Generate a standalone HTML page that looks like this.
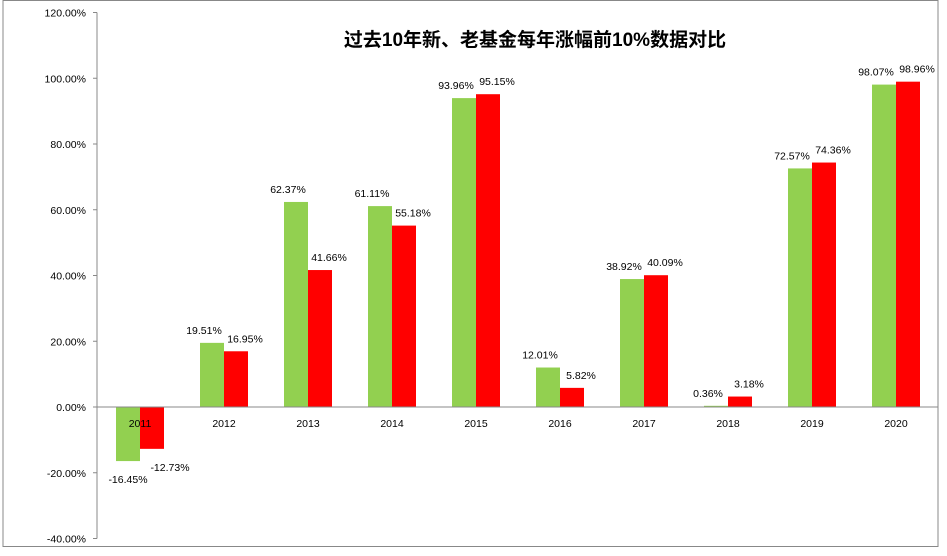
<!DOCTYPE html>
<html><head><meta charset="utf-8"><style>
body{margin:0;background:#fff}
svg{display:block;font-family:"Liberation Sans","Noto Sans CJK SC",sans-serif}
</style></head><body>
<svg id="c" width="947" height="556">
<rect x="3" y="0.5" width="935" height="546" fill="#fff" stroke="#888"/>
<text x="535" y="46" text-anchor="middle" font-size="19" font-weight="bold" fill="#000">过去10年新、老基金每年涨幅前10%数据对比</text>
<g id="grid"></g><g id="bars"></g>
</svg>
<script>
const categories=["2011","2012","2013","2014","2015","2016","2017","2018","2019","2020"];
const newFund=[-16.45,19.51,62.37,61.11,93.96,12.01,38.92,0.36,72.57,98.07];
const oldFund=[-12.73,16.95,41.66,55.18,95.15,5.82,40.09,3.18,74.36,98.96];
const yTicks=[-40,-20,0,20,40,60,80,100,120];
const NS="http://www.w3.org/2000/svg";
const y0=407,pxPer=65.75/20;
const y=v=>y0-v*pxPer;
const xc=i=>140+i*84;
const bw=24;
function mk(tag,attrs,parent,text){const e=document.createElementNS(NS,tag);for(const k in attrs)e.setAttribute(k,attrs[k]);if(text!==undefined)e.textContent=text;parent.appendChild(e);return e;}
const g=document.getElementById('grid'),b=document.getElementById('bars');
const ax=mk('line',{x1:97,x2:97,y1:y(120),y2:y(-40),stroke:'#888'},g);


yTicks.forEach(t=>{
 const l=mk('line',{x1:93,x2:97,y1:y(t),y2:y(t),stroke:'#888'},g);
 
 
 const tx=mk('text',{x:86,y:y(t)+4,'text-anchor':'end','font-size':10.5},g,t.toFixed(2)+'%');
 
 
});
categories.forEach((c,i)=>{
 const cx=xc(i);
 [[newFund[i],cx-bw,'#92D050','new-fund'],[oldFund[i],cx,'#FF0000','old-fund']].forEach(([v,x,col,nm])=>{
  const top=Math.min(y(v),y0),h=Math.abs(y(v)-y0);
  const r=mk('rect',{x:x,y:top,width:bw,height:h,fill:col},b);
  
  
  const ly=v>=0?y(v)-9:y(v)+22;
  let lx;
  if(v>=0) lx=nm==='new-fund'?x+bw/2-8:x+bw/2+9;
  else lx=nm==='new-fund'?x+bw/2:x+bw/2+18;
  const t=mk('text',{x:lx,y:ly,'text-anchor':'middle','font-size':10.5},b,v.toFixed(2)+'%');
  
  
 });
});
const xa=mk('line',{x1:97,x2:938,y1:y0,y2:y0,stroke:'#888'},b);


categories.forEach((c,i)=>{
 const t=mk('text',{x:xc(i),y:y0+20,'text-anchor':'middle','font-size':10.5},b,c);
 
 
});
</script>
</body></html>
